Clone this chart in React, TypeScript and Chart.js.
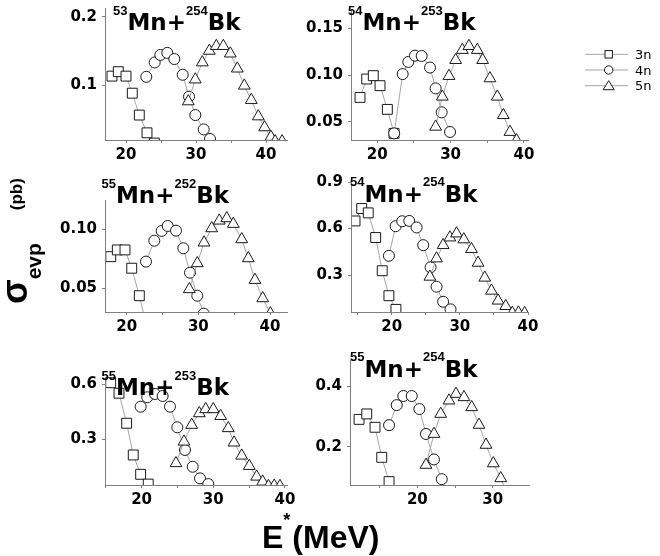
import React, { useEffect, useRef } from 'react';
import { Chart, registerables } from 'chart.js';

Chart.register(...registerables);

// ---------- data (E* in MeV, sigma in pb) ----------
// Panel 1: 53Mn + 254Bk
const p1_3n = [[18.0, 0.113], [18.9, 0.1195], [20.0, 0.113], [20.9, 0.088], [21.9, 0.056], [23.0, 0.03], [24.05, 0.015]];
const p1_4n = [[22.9, 0.112], [24.1, 0.133], [24.9, 0.144], [25.9, 0.147], [26.9, 0.138], [28.1, 0.115], [29.0, 0.083], [29.9, 0.056], [31.1, 0.035], [32.0, 0.021]];
const p1_5n = [[28.9, 0.076], [29.9, 0.108], [30.9, 0.133], [31.9, 0.15], [32.9, 0.157], [33.9, 0.157], [34.9, 0.146], [35.9, 0.124], [36.9, 0.099], [37.9, 0.078], [38.9, 0.054], [39.8, 0.038], [40.7, 0.024], [41.3, 0.0175], [42.3, 0.0175]];
// Panel 2: 54Mn + 253Bk
const p2_3n = [[17.64, 0.076], [18.55, 0.0957], [19.45, 0.0993], [20.37, 0.0886], [21.37, 0.0632], [22.28, 0.0375]];
const p2_4n = [[22.3, 0.0375], [23.46, 0.101], [24.23, 0.114], [25.14, 0.1207], [26.05, 0.1204], [27.19, 0.108], [27.96, 0.0857], [28.78, 0.06], [29.92, 0.039]];
const p2_5n = [[27.96, 0.0446], [28.87, 0.0768], [29.78, 0.0989], [30.69, 0.116], [31.6, 0.1268], [32.5, 0.131], [33.64, 0.1268], [34.37, 0.116], [35.37, 0.0964], [36.37, 0.0768], [37.19, 0.057], [38.1, 0.039], [39.0, 0.03]];
// Panel 3: 55Mn + 252Bk
const p3_3n = [[17.77, 0.0768], [18.69, 0.0825], [19.76, 0.0825], [20.7, 0.067], [21.76, 0.0437], [22.9, 0.015]];
const p3_4n = [[22.69, 0.0726], [23.85, 0.0903], [24.88, 0.0986], [25.72, 0.1028], [26.88, 0.0988], [27.9, 0.0839], [28.83, 0.0632], [29.85, 0.0437], [30.75, 0.0285]];
const p3_5n = [[28.74, 0.0492], [29.85, 0.0712], [30.79, 0.0887], [31.86, 0.1008], [32.92, 0.1073], [33.96, 0.1093], [34.88, 0.1045], [36.05, 0.0915], [36.97, 0.0754], [37.9, 0.057], [38.98, 0.0415], [40.05, 0.0287]];
// Panel 4: 54Mn + 254Bk
const p4_3n = [[14.63, 0.649], [15.61, 0.729], [16.57, 0.701], [17.66, 0.542], [18.62, 0.328], [19.6, 0.167], [20.63, 0.079]];
const p4_4n = [[19.6, 0.424], [20.59, 0.615], [21.55, 0.647], [22.58, 0.649], [23.66, 0.607], [24.63, 0.493], [25.71, 0.35], [26.59, 0.225], [27.55, 0.128], [28.64, 0.079]];
const p4_5n = [[25.61, 0.289], [26.59, 0.407], [27.55, 0.493], [28.54, 0.542], [29.52, 0.568], [30.59, 0.53], [31.71, 0.467], [32.68, 0.379], [33.66, 0.283], [34.64, 0.199], [35.61, 0.135], [36.73, 0.1], [37.7, 0.056], [38.6, 0.058], [39.5, 0.055]];
// Panel 5: 55Mn + 253Bk
const p5_3n = [[15.69, 0.607], [16.85, 0.55], [17.92, 0.387], [18.84, 0.215], [19.87, 0.11], [20.93, 0.057]];
const p5_4n = [[19.87, 0.477], [20.8, 0.528], [21.87, 0.546], [22.94, 0.535], [23.96, 0.477], [24.98, 0.365], [26.05, 0.242], [27.13, 0.151], [28.15, 0.088], [29.3, 0.057]];
const p5_5n = [[24.8, 0.17], [25.91, 0.287], [26.99, 0.378], [28.05, 0.441], [28.94, 0.463], [30.0, 0.463], [31.03, 0.426], [32.09, 0.36], [32.89, 0.282], [33.96, 0.211], [35.02, 0.155], [36.05, 0.097], [36.89, 0.07], [37.7, 0.046], [38.5, 0.048], [39.3, 0.046]];
// Panel 6: 55Mn + 254Bk
const p6_3n = [[12.27, 0.29], [13.29, 0.308], [14.39, 0.264], [15.28, 0.165], [16.25, 0.085]];
const p6_4n = [[16.25, 0.271], [17.27, 0.337], [18.14, 0.367], [19.26, 0.367], [20.27, 0.324], [21.15, 0.242], [22.21, 0.158], [23.24, 0.093]];
const p6_5n = [[21.15, 0.14], [22.21, 0.242], [23.1, 0.308], [24.2, 0.352], [25.13, 0.374], [26.19, 0.363], [27.21, 0.33], [28.18, 0.272], [29.11, 0.206], [30.08, 0.145], [31.06, 0.096], [32.0, 0.04]];

// tick values / labels
const xTicksA = [20, 25, 30, 35, 40];
const xLabelsA = ['20', '', '30', '', '40'];
const xTicksB = [15, 20, 25, 30, 35, 40];
const xLabelsB = ['', '20', '', '30', '', '40'];
const xTicksC = [15, 20, 25, 30];
const xLabelsC = ['', '20', '', '30'];
const p1YLabels = ['0.1', '0.2'];
const p2YLabels = ['0.05', '0.10', '0.15'];
const p3YLabels = ['0.05', '0.10'];
const p4YLabels = ['0.3', '0.6', '0.9'];
const p5YLabels = ['0.3', '0.6'];
const p6YLabels = ['0.2', '0.4'];

// titles: [projectile mass, target mass]
const p1Title = ['53', '254'];
const p2Title = ['54', '253'];
const p3Title = ['55', '252'];
const p4Title = ['54', '254'];
const p5Title = ['55', '253'];
const p6Title = ['55', '254'];

const seriesNames = ['3n', '4n', '5n'];

// ---------- layout ----------
const YW = 50; // y-axis box width
const XH = 30; // x-axis box height
const PT = 14;
const PR = 14;

interface Panel {
  s3: number[][];
  s4: number[][];
  s5: number[][];
  xmin: number; xmax: number; ymin: number; ymax: number;
  xTicks: number[]; xLabels: string[]; yLabels: string[];
  title: string[];
  l: number; t: number; r: number; b: number;
  tx: number; ty: number;
}

const panels: Panel[] = [
  { s3: p1_3n, s4: p1_4n, s5: p1_5n, xmin: 17.0, xmax: 43.0, ymin: 0.0195, ymax: 0.2127, xTicks: xTicksA, xLabels: xLabelsA, yLabels: p1YLabels, title: p1Title, l: 105, t: 8, r: 287, b: 140, tx: 113, ty: 30 },
  { s3: p2_3n, s4: p2_4n, s5: p2_5n, xmin: 16.41, xmax: 40.56, ymin: 0.0304, ymax: 0.1707, xTicks: xTicksA, xLabels: xLabelsA, yLabels: p2YLabels, title: p2Title, l: 351, t: 9, r: 528, b: 140, tx: 348, ty: 30 },
  { s3: p3_3n, s4: p3_4n, s5: p3_5n, xmin: 16.97, xmax: 42.37, ymin: 0.0299, ymax: 0.1248, xTicks: xTicksA, xLabels: xLabelsA, yLabels: p3YLabels, title: p3Title, l: 105, t: 200, r: 287, b: 312, tx: 101.5, ty: 203 },
  { s3: p4_3n, s4: p4_4n, s5: p4_5n, xmin: 14.04, xmax: 40.0, ymin: 0.062, ymax: 0.9, xTicks: xTicksB, xLabels: xLabelsB, yLabels: p4YLabels, title: p4Title, l: 351, t: 182, r: 528, b: 312, tx: 350, ty: 201.5 },
  { s3: p5_3n, s4: p5_4n, s5: p5_5n, xmin: 14.9, xmax: 40.28, ymin: 0.052, ymax: 0.638, xTicks: xTicksB, xLabels: xLabelsB, yLabels: p5YLabels, title: p5Title, l: 105, t: 377, r: 287, b: 485, tx: 101.5, ty: 395 },
  { s3: p6_3n, s4: p6_4n, s5: p6_5n, xmin: 11.07, xmax: 34.81, ymin: 0.0738, ymax: 0.4857, xTicks: xTicksC, xLabels: xLabelsC, yLabels: p6YLabels, title: p6Title, l: 350, t: 360, r: 529, b: 485, tx: 350, ty: 376.5 },
];

const tickFont = { family: 'DejaVu Sans', size: 15, weight: 'bold' as const };
const AXIS = '#808080';
const LINE = '#a6a6a6';

function mkSet(label: string, pts: number[][], style: string, r: number, order: number) {
  return {
    label,
    data: pts.map(([x, y]) => ({ x, y })),
    showLine: true,
    borderColor: LINE,
    borderWidth: 1,
    pointStyle: style,
    pointRadius: r,
    pointHoverRadius: r,
    pointBorderColor: '#1a1a1a',
    pointBackgroundColor: '#ffffff',
    pointBorderWidth: 1,
    clip: 0,
    order,
  };
}

function PanelChart({ p }: { p: Panel }) {
  const ref = useRef<HTMLCanvasElement>(null);
  const W = p.r - p.l + YW + PR;
  const H = p.b - p.t + PT + XH;
  useEffect(() => {
    const chart = new Chart(ref.current as HTMLCanvasElement, {
      type: 'scatter',
      data: {
        datasets: [
          mkSet(seriesNames[0], p.s3, 'rect', 7, 3),
          mkSet(seriesNames[1], p.s4, 'circle', 5.5, 2),
          mkSet(seriesNames[2], p.s5, 'triangle', 6.8, 1),
        ] as any,
      },
      options: {
        animation: false,
        responsive: false,
        maintainAspectRatio: false,
        events: [],
        layout: { padding: { top: PT, right: PR, left: 0, bottom: 0 } },
        plugins: { legend: { display: false }, tooltip: { enabled: false } },
        scales: {
          x: {
            type: 'linear',
            min: p.xmin,
            max: p.xmax,
            afterFit: (s: any) => { s.height = XH; },
            afterBuildTicks: (s: any) => { s.ticks = p.xTicks.map((v) => ({ value: v })); },
            ticks: {
              autoSkip: false,
              maxRotation: 0,
              padding: 3,
              color: '#000',
              font: tickFont,
              callback: (_v: any, i: number) => p.xLabels[i],
            },
            grid: { drawOnChartArea: false, drawTicks: true, tickLength: 3, color: AXIS },
            border: { display: true, color: AXIS, width: 1, z: 1 },
          },
          y: {
            type: 'linear',
            min: p.ymin,
            max: p.ymax,
            afterFit: (s: any) => { s.width = YW; },
            afterBuildTicks: (s: any) => { s.ticks = p.yLabels.map((v) => ({ value: Number(v) })); },
            ticks: {
              autoSkip: false,
              padding: 5,
              color: '#000',
              font: tickFont,
              callback: (_v: any, i: number) => p.yLabels[i],
            },
            grid: { drawOnChartArea: false, drawTicks: true, tickLength: 3, color: AXIS },
            border: { display: true, color: AXIS, width: 1, z: 1 },
          },
        },
      } as any,
    });
    return () => chart.destroy();
  }, []);
  return (
    <canvas
      ref={ref}
      width={W}
      height={H}
      style={{ position: 'absolute', left: p.l - YW, top: p.t - PT, width: W, height: H }}
    />
  );
}

function Title({ p }: { p: Panel }) {
  return (
    <text x={p.tx} y={p.ty} fontFamily="DejaVu Sans" fontWeight="bold" fontSize={23} fill="#000">
      <tspan fontFamily="Liberation Sans" fontSize={13} dy={-15.5}>{p.title[0]}</tspan>
      <tspan dy={15.5}>Mn+</tspan>
      <tspan fontFamily="Liberation Sans" fontSize={13} dy={-15.5}>{p.title[1]}</tspan>
      <tspan dy={15.5}>Bk</tspan>
    </text>
  );
}

export default function App() {
  const legendRows = [54.3, 70, 85.7];
  return (
    <div style={{ position: 'absolute', left: 0, top: 0, width: 660, height: 556, background: '#fff', overflow: 'hidden' }}>
      {panels.map((p, i) => (
        <PanelChart key={i} p={p} />
      ))}
      <svg width={660} height={556} style={{ position: 'absolute', left: 0, top: 0, pointerEvents: 'none' }}>
        {panels.map((p, i) => (
          <Title key={i} p={p} />
        ))}
        {/* y-axis label */}
        <text transform="translate(27,304) rotate(-90)" fontFamily="Liberation Sans" fontWeight="bold" fill="#000">
          <tspan fontSize={36}>σ</tspan>
          <tspan fontSize={21} dy={14}>evp</tspan>
          <tspan fontSize={17} dx={33} dy={-19.4}>(pb)</tspan>
        </text>
        {/* x-axis label */}
        <text x={262} y={548} fontFamily="Liberation Sans" fontWeight="bold" fontSize={32} fill="#000">
          E<tspan fontSize={18} dy={-22}>*</tspan>
          <tspan dy={22} dx={2}>(MeV)</tspan>
        </text>
        {/* legend */}
        {legendRows.map((y, i) => (
          <g key={i}>
            <line x1={585} x2={628} y1={y} y2={y} stroke={LINE} strokeWidth={1} />
            {i === 0 && <rect x={605} y={y - 3.7} width={7.4} height={7.4} fill="#fff" stroke="#1a1a1a" strokeWidth={1} />}
            {i === 1 && <circle cx={608.7} cy={y} r={4.2} fill="#fff" stroke="#1a1a1a" strokeWidth={1} />}
            {i === 2 && (
              <polygon
                points={`${608.7},${y - 5} ${608.7 + 5.5},${y + 4} ${608.7 - 5.5},${y + 4}`}
                fill="#fff"
                stroke="#1a1a1a"
                strokeWidth={1}
              />
            )}
            <text x={635} y={y + 4.7} fontFamily="DejaVu Sans" fontSize={13} fill="#000">
              {seriesNames[i]}
            </text>
          </g>
        ))}
      </svg>
    </div>
  );
}
